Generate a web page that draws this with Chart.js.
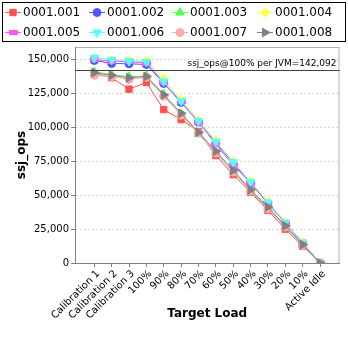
<!DOCTYPE html>
<html><head><meta charset="utf-8">
<script src="https://cdn.jsdelivr.net/npm/chart.js@4/dist/chart.umd.min.js"></script>
<style>html,body{margin:0;padding:0;background:#fff}#w{width:348px;height:348px}</style>
</head><body><div id="w"><canvas id="c" width="348" height="348"></canvas></div>
<script>
const categories = ["Calibration 1","Calibration 2","Calibration 3","100%","90%","80%","70%","60%","50%","40%","30%","20%","10%","Active Idle"];
const seriesNames = ["0001.001","0001.002","0001.003","0001.004","0001.005","0001.006","0001.007","0001.008"];
const s001 = [139900,136700,128300,133200,113200,105800,97000,79300,65200,52100,38800,25000,12500,0];
const s002 = [149500,147300,147000,146500,132500,118500,104000,88500,73500,59000,44000,29500,14700,0];
const s003 = [141000,139000,137500,138000,124500,110000,95000,81500,67500,53500,40500,27000,13300,0];
const s004 = [151000,150000,149500,149500,136000,120500,105500,90500,75000,60500,45300,30200,15100,0];
const s005 = [150000,149000,148500,147500,133000,119000,104000,87500,72000,59000,44000,29300,14700,0];
const s006 = [151500,150000,149000,148500,134000,119500,104800,89500,74400,60000,44700,29900,15000,0];
const s007 = [138500,137500,135500,137000,123000,109000,96000,81000,67000,53000,40000,26500,13000,0];
const s008 = [140500,138500,136700,137700,124100,110500,96500,82500,68400,54100,41300,27400,13600,0];
const yTicks = [0,25000,50000,75000,100000,125000,150000];
const refValue = 142092;
const refLabel = "ssj_ops@100% per JVM=142,092";

const seriesValues = [s001,s002,s003,s004,s005,s006,s007,s008];
const colors = ["#ff5050","#5555ff","#55ff55","#ffff44","#ff55ff","#55ffff","#ffaaaa","#808080"];
function barImg(){const c=document.createElement('canvas');c.width=9;c.height=5;const x=c.getContext('2d');x.fillStyle="#ff55ff";x.fillRect(0,0,9,5);return c;}
const styles = [
 {pointStyle:'rect',rotation:0,radius:4.5},
 {pointStyle:'circle',rotation:0,radius:4},
 {pointStyle:'triangle',rotation:0,radius:5},
 {pointStyle:'rectRot',rotation:0,radius:4.5},
 {pointStyle:barImg(),rotation:0,radius:4},
 {pointStyle:'triangle',rotation:180,radius:5},
 {pointStyle:'circle',rotation:0,radius:4},
 {pointStyle:'triangle',rotation:90,radius:5}
];

const datasets = seriesNames.map((n,i)=>({
  label:n,
  data:seriesValues[i].map((v,k)=>({x:k,y:v})),
  borderColor:colors[i],backgroundColor:colors[i],
  pointBackgroundColor:colors[i],pointBorderColor:colors[i],
  borderWidth:1,pointBorderWidth:1,
  pointStyle:styles[i].pointStyle,pointRotation:styles[i].rotation,pointRadius:styles[i].radius,
  order:8-i,tension:0
}));

const deco = {
  id:'deco',
  beforeDraw(chart){
    const {ctx,chartArea:a}=chart;
    ctx.save();ctx.strokeStyle="#b0b0b0";ctx.lineWidth=1;
    ctx.strokeRect(a.left+0.5,a.top+0.5,a.right-a.left-1,a.bottom-a.top);
    ctx.restore();
  },
  afterDatasetsDraw(chart){
    const {ctx,chartArea:a,scales}=chart;
    const y=Math.round(scales.y.getPixelForValue(refValue))+0.5;
    ctx.save();ctx.strokeStyle="#404040";ctx.lineWidth=1;
    ctx.beginPath();ctx.moveTo(a.left,y);ctx.lineTo(a.right,y);ctx.stroke();
    ctx.fillStyle="#000";ctx.font="9px 'DejaVu Sans'";ctx.textAlign="right";ctx.textBaseline="bottom";
    ctx.fillText(refLabel,a.right-3,y-2);
    ctx.restore();
  },
  afterDraw(chart){
    const ctx=chart.ctx;
    ctx.save();
    ctx.strokeStyle="#000";ctx.lineWidth=1;ctx.strokeRect(2.5,2.5,343,39);
    const colX=[5,89,172,257];
    ctx.font="12px 'DejaVu Sans'";ctx.textBaseline="middle";ctx.textAlign="left";
    chart.data.datasets.forEach((d,i)=>{
      const x=colX[i%4], y=(i<4?12:32);
      ctx.strokeStyle=d.borderColor;ctx.lineWidth=1;
      ctx.beginPath();ctx.moveTo(x,y+0.5);ctx.lineTo(x+16,y+0.5);ctx.stroke();
      ctx.fillStyle=d.borderColor;
      Chart.helpers.drawPoint(ctx,{pointStyle:d.pointStyle,rotation:d.pointRotation,radius:d.pointRadius,borderWidth:1},x+8,y+0.5);
      ctx.fillStyle="#000";
      ctx.fillText(d.label,x+18,y+1);
    });
    ctx.restore();
  }
};

new Chart(document.getElementById('c'),{
  type:'line',
  data:{datasets},
  plugins:[deco],
  options:{
    responsive:false,animation:false,devicePixelRatio:1,
    layout:{padding:{top:47,right:8.5,left:0,bottom:0}},
    plugins:{legend:{display:false},tooltip:{enabled:false}},
    scales:{
      x:{type:'linear',min:-1.11,max:14.12,
        afterFit(s){s.height=85;},
        afterBuildTicks(s){s.ticks=categories.map((c,i)=>({value:i}));},
        ticks:{autoSkip:false,maxRotation:45,minRotation:45,padding:1,labelOffset:4,color:"#000",font:{family:"DejaVu Sans",size:10},
          callback:(v)=>categories[v]},
        grid:{drawOnChartArea:false,tickLength:4,color:"#808080"},
        border:{color:"#808080"},
        title:{display:true,text:"Target Load",color:"#000",font:{family:"DejaVu Sans",size:12,weight:'bold'},padding:{top:0,bottom:27}}
      },
      y:{min:0,max:159400,
        afterFit(s){s.width=75;},
        afterBuildTicks(s){s.ticks=yTicks.map(v=>({value:v}));},
        ticks:{padding:2,color:"#000",font:{family:"DejaVu Sans",size:10},callback:(v)=>v.toLocaleString('en-US')},
        grid:{color:"#d8d8d8",tickLength:4,tickColor:"#808080",tickBorderDash:[]},
        border:{color:"#808080",dash:[2,2]},
        title:{display:true,text:"ssj_ops",color:"#000",font:{family:"DejaVu Sans",size:12,weight:'bold'},padding:{top:15,bottom:0}}
      }
    }
  }
});
</script></body></html>
